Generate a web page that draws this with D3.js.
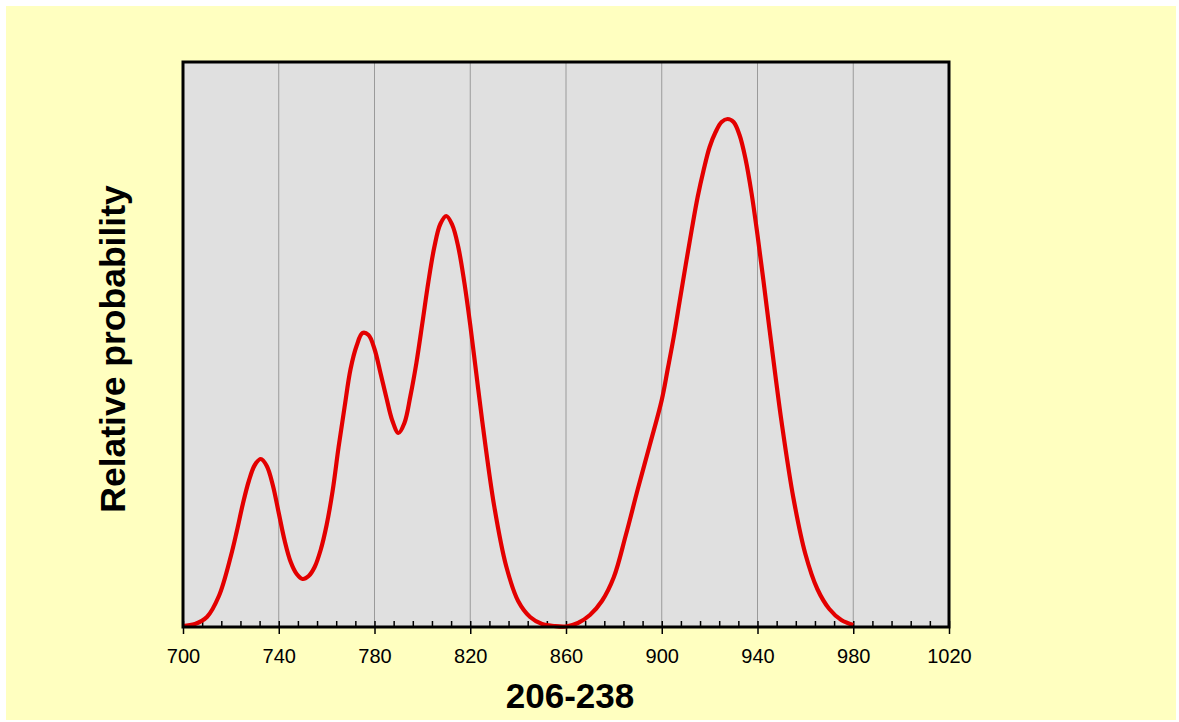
<!DOCTYPE html>
<html>
<head>
<meta charset="utf-8">
<script src="https://cdn.jsdelivr.net/npm/d3@7"></script>
<style>
  body { margin: 0; background: #fff; }
  svg { display: block; font-family: "Liberation Sans", Arial, sans-serif; }
</style>
</head>
<body>
<svg width="1179" height="722"></svg>
<script>
// values (206-238 age vs relative probability, arbitrary units)
const ages = [700, 705, 710, 715, 720,
  722.5, 725, 727.5, 730, 732.5, 735, 737.5, 740, 742.5, 745,
  747.5, 750, 752.5, 755, 757.5, 760, 762.5, 765, 767.5, 770,
  772.5, 775, 777.5, 780, 782.5, 785, 787.5, 790, 792.5, 795,
  797.5, 800, 802.5, 805, 807.5, 810, 812.5, 815, 817.5, 820,
  822.5, 825,
  830, 835, 840, 845, 850, 855, 860, 865, 870, 875, 880, 885, 890, 895, 900,
  902.5, 905, 907.5, 910, 912.5, 915, 917.5, 920, 922.5, 925,
  927.5, 930, 932.5, 935, 937.5, 940, 942.5, 945, 947.5,
  950, 955, 960, 965, 970, 975, 980];
const prob = [1, 3, 10, 31, 71,
  96, 123, 146, 162, 168, 161, 142, 114, 86, 65,
  53, 48, 51, 60, 77, 102, 136, 180, 220, 258,
  281, 294, 292, 278, 254, 229, 206, 194, 204, 231,
  264, 304, 345, 380, 403, 411, 402, 380, 345, 302,
  254, 206,
  121, 61, 26, 10, 3, 1, 0.5, 4, 12, 26, 50, 92, 138, 182, 227,
  258, 290, 326, 362, 397, 430, 457, 480, 495, 505,
  508, 505, 492, 468, 434, 392, 346, 298, 251,
  206, 129, 73, 38, 18, 7, 2];
const majorTicks = [700, 740, 780, 820, 860, 900, 940, 980, 1020];
const minorTicks = d3.range(700, 1021, 8);
const gridTicks = [740, 780, 820, 860, 900, 940, 980];

const svg = d3.select("svg");
const plotL = 183, plotR = 949, plotT = 62, plotB = 627;

svg.append("rect")
  .attr("x", 6).attr("y", 6).attr("width", 1170).attr("height", 714)
  .attr("fill", "#ffffc0");

const x = d3.scaleLinear().domain([700, 1020]).range([plotL, plotR]);
const y = d3.scaleLinear().domain([0, 565]).range([plotB, plotT]);

svg.append("rect")
  .attr("x", plotL).attr("y", plotT)
  .attr("width", plotR - plotL).attr("height", plotB - plotT)
  .attr("fill", "#e0e0e0");

// vertical grid lines
svg.append("g")
  .selectAll("line")
  .data(gridTicks)
  .join("line")
  .attr("x1", d => x(d)).attr("x2", d => x(d))
  .attr("y1", plotT).attr("y2", plotB)
  .attr("stroke", "#9a9a9a")
  .attr("stroke-width", 1);

// minor ticks pointing up into the plot
svg.append("g")
  .attr("transform", `translate(0, ${plotB})`)
  .call(d3.axisBottom(x).tickValues(minorTicks).tickSize(-6).tickFormat(""))
  .call(g => g.select(".domain").remove())
  .call(g => g.selectAll("line").attr("stroke", "#000").attr("stroke-width", 1.5));

// major ticks and labels
svg.append("g")
  .attr("transform", `translate(0, ${plotB})`)
  .call(d3.axisBottom(x).tickValues(majorTicks).tickSize(7).tickPadding(15).tickFormat(d3.format("d")))
  .call(g => g.select(".domain").remove())
  .call(g => g.selectAll("line").attr("stroke", "#000").attr("stroke-width", 1.5))
  .call(g => g.selectAll("text").attr("font-size", 20).attr("fill", "#000")
    .attr("font-family", "Liberation Sans, Arial, sans-serif"));

// the curve
const line = d3.line()
  .x((d, i) => x(ages[i]))
  .y(d => y(d))
  .curve(d3.curveCatmullRom.alpha(0.5));

svg.append("path")
  .datum(prob)
  .attr("d", line)
  .attr("fill", "none")
  .attr("stroke", "#e30000")
  .attr("stroke-width", 4.2)
  .attr("stroke-linejoin", "round");

// frame
svg.append("rect")
  .attr("x", plotL).attr("y", plotT)
  .attr("width", plotR - plotL).attr("height", plotB - plotT)
  .attr("fill", "none")
  .attr("stroke", "#000")
  .attr("stroke-width", 3);

// titles
svg.append("text")
  .attr("x", (plotL + plotR) / 2 + 4)
  .attr("y", 708)
  .attr("text-anchor", "middle")
  .attr("font-size", 35)
  .attr("font-weight", "bold")
  .text("206-238");

svg.append("text")
  .attr("transform", "translate(125, 349) rotate(-90)")
  .attr("text-anchor", "middle")
  .attr("font-size", 35.5)
  .attr("font-weight", "bold")
  .text("Relative probability");
</script>
</body>
</html>
